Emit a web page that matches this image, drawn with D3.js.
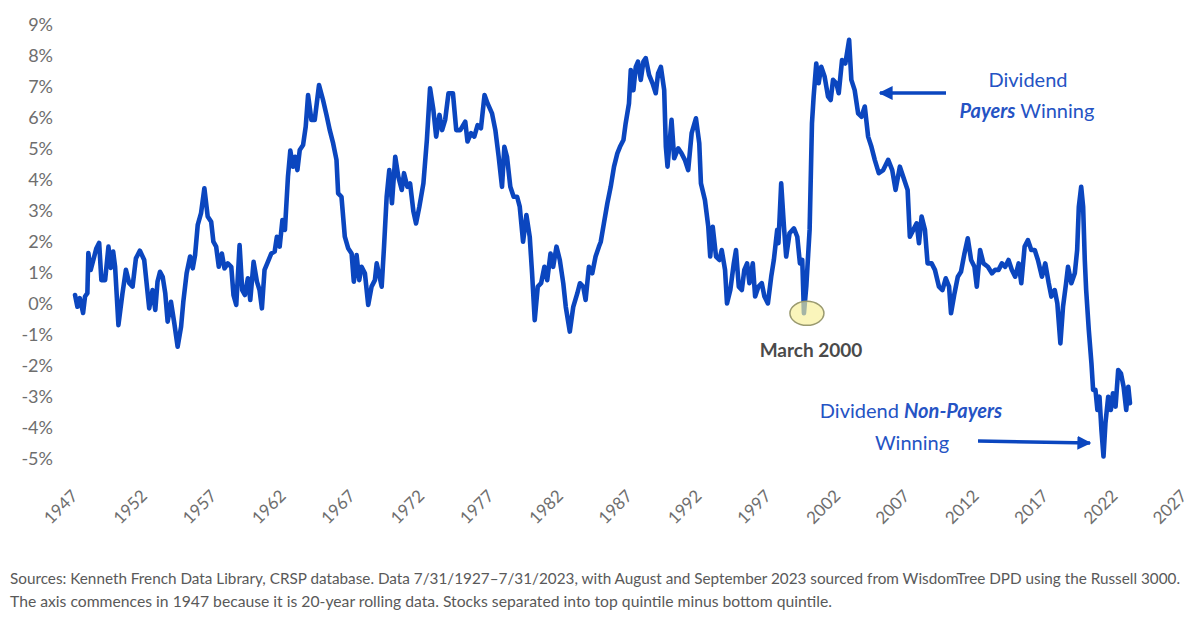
<!DOCTYPE html>
<html>
<head>
<meta charset="utf-8">
<script src="https://cdn.jsdelivr.net/npm/d3@7"></script>
<style>
  html, body { margin: 0; padding: 0; background: #fff; }
  svg { display: block; }
</style>
</head>
<body>
<svg id="chart" width="1200" height="624"></svg>
<script>
// ---- Data (decimal year, 20-yr rolling spread in %) ----
const years = [
1947.58,1947.75,1947.92,1948.16,1948.30,1948.47,1948.54,1948.71,1948.90,1949.12,1949.32,1949.48,1949.75,1949.99,
1950.16,1950.33,1950.47,1950.71,1951.00,1951.25,1951.49,1951.73,1951.97,1952.26,1952.57,1952.93,1953.17,1953.37,
1953.53,1953.71,1953.90,1954.09,1954.26,1954.50,1954.74,1954.98,1955.23,1955.39,1955.63,1955.88,1956.07,1956.24,
1956.43,1956.67,1956.91,1957.15,1957.40,1957.56,1957.76,1957.95,1958.17,1958.36,1958.60,1958.85,1959.01,1959.21,
1959.45,1959.64,1959.83,1960.05,1960.22,1960.46,1960.70,1960.89,1961.06,1961.25,1961.49,1961.74,1961.98,1962.14,
1962.34,1962.54,1962.72,1962.94,1963.11,1963.30,1963.45,1963.62,1963.79,1964.03,1964.22,1964.39,1964.63,1964.87,
1965.18,1965.47,1965.72,1965.96,1966.20,1966.44,1966.56,1966.80,1967.04,1967.28,1967.53,1967.69,1967.89,1968.08,
1968.25,1968.49,1968.73,1968.97,1969.21,1969.34,1969.70,1969.87,1970.06,1970.25,1970.44,1970.68,1970.90,1971.15,
1971.31,1971.55,1971.75,1971.99,1972.18,1972.42,1972.71,1972.96,1973.19,1973.43,1973.63,1973.87,1974.06,1974.28,
1974.52,1974.84,1975.08,1975.37,1975.73,1975.89,1976.14,1976.38,1976.62,1976.86,1977.12,1977.34,1977.66,1977.90,
1978.14,1978.38,1978.55,1978.74,1978.98,1979.22,1979.47,1979.66,1979.90,1980.14,1980.38,1980.55,1980.74,1980.96,
1981.20,1981.44,1981.64,1981.88,1982.07,1982.31,1982.55,1982.80,1982.98,1983.27,1983.52,1983.81,1984.00,1984.24,
1984.41,1984.65,1984.89,1985.13,1985.37,1985.50,1985.73,1985.98,1986.22,1986.46,1986.70,1986.89,1987.14,1987.30,
1987.54,1987.67,1987.86,1988.03,1988.19,1988.39,1988.58,1988.75,1988.99,1989.24,1989.47,1989.64,1989.84,1990.08,
1990.20,1990.32,1990.61,1990.80,1991.09,1991.33,1991.57,1991.81,1992.06,1992.37,1992.61,1992.73,1993.02,1993.26,
1993.40,1993.58,1993.82,1994.06,1994.23,1994.47,1994.61,1994.85,1995.10,1995.26,1995.46,1995.68,1995.86,1996.06,
1996.23,1996.47,1996.64,1996.88,1997.12,1997.31,1997.56,1997.80,1997.99,1998.23,1998.32,1998.52,1998.72,1998.88,
1999.12,1999.44,1999.68,1999.87,2000.04,2000.16,2000.33,2000.57,2000.74,2000.86,2001.05,2001.22,2001.41,2001.65,
2001.90,2002.09,2002.26,2002.50,2002.67,2002.91,2003.15,2003.42,2003.58,2003.82,2004.07,2004.31,2004.55,2004.79,
2005.03,2005.27,2005.56,2005.88,2006.24,2006.53,2006.77,2007.08,2007.40,2007.64,2007.80,2008.05,2008.29,2008.46,
2008.65,2008.89,2009.08,2009.37,2009.61,2009.90,2010.15,2010.39,2010.63,2010.77,2011.02,2011.26,2011.49,2011.74,
2011.98,2012.22,2012.46,2012.63,2012.87,2013.11,2013.43,2013.72,2013.95,2014.20,2014.44,2014.68,2014.92,2015.16,
2015.40,2015.65,2015.84,2016.08,2016.32,2016.56,2016.81,2017.04,2017.33,2017.57,2017.82,2018.01,2018.25,2018.44,
2018.66,2018.85,2019.07,2019.21,2019.45,2019.70,2019.87,2019.99,2020.16,2020.30,2020.42,2020.52,2020.71,2020.90,
2021.02,2021.19,2021.33,2021.48,2021.62,2021.77,2021.91,2022.11,2022.30,2022.45,2022.64,2022.83,2023.03,2023.22,
2023.41,2023.56,2023.68
];
const spread = [
0.29,-0.09,0.19,-0.29,0.24,0.35,1.64,1.10,1.42,1.80,1.97,0.77,0.77,1.85,
1.16,1.69,1.20,-0.68,0.34,1.10,0.67,0.56,1.47,1.72,1.42,-0.14,0.45,-0.19,
0.72,1.04,0.88,0.34,-0.57,0.07,-0.62,-1.38,-0.73,0.07,0.99,1.53,1.15,1.58,
2.55,2.93,3.73,2.82,2.65,2.01,1.85,1.20,1.63,1.15,1.31,1.20,0.29,-0.03,
1.90,0.45,0.29,0.83,0.13,1.36,0.72,0.45,-0.14,1.10,1.36,1.63,1.69,2.17,
1.85,2.71,2.39,4.11,4.95,4.43,4.75,4.32,4.97,5.13,5.72,6.74,5.94,5.94,
7.06,6.58,6.10,5.60,5.18,4.65,3.57,3.46,2.17,1.80,1.63,0.72,1.58,0.77,
1.20,0.99,-0.03,0.56,0.77,1.31,0.56,1.85,3.46,4.32,3.25,4.75,4.11,3.68,
4.22,3.78,3.89,2.98,2.60,3.14,3.89,5.29,6.96,6.26,5.40,6.10,5.61,5.94,
6.80,6.80,5.61,5.61,5.88,5.24,5.51,5.40,5.77,5.67,6.74,6.47,6.15,5.61,
4.75,3.78,5.07,4.75,3.78,3.46,3.46,3.14,2.01,2.87,2.17,0.99,-0.52,0.56,
0.67,1.20,0.77,1.63,1.20,1.85,1.42,0.67,-0.09,-0.89,-0.09,0.34,0.67,0.56,
0.13,1.20,0.99,1.53,1.85,2.00,2.60,3.25,3.78,4.43,4.86,5.07,5.29,5.83,
6.47,7.55,6.90,7.65,7.82,7.23,7.82,7.93,7.39,7.12,6.80,7.44,7.65,6.90,
5.07,4.43,5.94,4.70,5.02,4.86,4.65,4.32,5.51,5.99,5.18,3.89,3.35,2.49,
1.53,2.49,1.53,1.42,1.74,1.10,0.02,0.45,1.31,1.74,0.56,0.45,1.10,1.31,
0.67,1.31,0.24,0.56,0.67,0.24,0.02,0.88,1.42,2.39,1.96,3.89,2.49,1.53,
2.28,2.44,2.17,1.31,1.42,-0.30,0.56,2.39,5.83,6.69,7.76,7.12,7.65,7.34,
6.69,6.58,7.23,7.12,6.80,7.87,7.76,8.52,7.23,6.90,6.15,6.04,6.37,5.40,
5.07,4.65,4.22,4.32,4.65,4.32,3.68,4.43,4.00,3.68,2.17,2.39,2.60,1.96,
2.82,2.39,1.31,1.31,1.10,0.56,0.45,0.83,0.56,-0.30,0.34,0.88,1.04,1.63,
2.12,1.42,1.20,0.56,1.74,1.31,1.20,0.99,1.10,1.10,1.31,1.20,1.42,1.10,
0.88,1.31,0.67,1.85,2.06,1.74,1.74,1.42,0.88,1.31,0.67,0.24,0.45,0.02,
-1.27,-0.09,0.67,1.20,0.67,0.99,1.74,3.14,3.78,3.14,1.42,0.45,-0.84,-1.91,
-2.77,-2.77,-3.42,-2.99,-4.06,-4.92,-3.85,-2.99,-3.42,-2.88,-3.31,-2.13,-2.24,-2.67,
-3.42,-2.67,-3.20
];
const xTickYears = [1947,1952,1957,1962,1967,1972,1977,1982,1987,1992,1997,2002,2007,2012,2017,2022,2027];
const yTickValues = [-5,-4,-3,-2,-1,0,1,2,3,4,5,6,7,8,9];
const footnoteLines = [
  "Sources: Kenneth French Data Library, CRSP database. Data 7/31/1927–7/31/2023, with August and September 2023 sourced from WisdomTree DPD using the Russell 3000.",
  "The axis commences in 1947 because it is 20-year rolling data. Stocks separated into top quintile minus bottom quintile."
];

// ---- Drawing ----
const svg = d3.select("#chart");
const FONT = "Lato, 'Open Sans', sans-serif";
const BLUE = "#0b46bf";
const TEXTBLUE = "#2553c4";
const GRAY = "#6e6e6e";

const x = d3.scaleLinear().domain([1947, 2027]).range([67, 1176]);
const y = d3.scaleLinear().domain([-5, 9]).range([459, 25]);

// Y axis labels
const yAxis = d3.axisLeft(y).tickValues(yTickValues).tickFormat(d => d + "%").tickSize(0).tickPadding(0);
const gy = svg.append("g").attr("transform", "translate(53,0)").call(yAxis);
gy.select(".domain").remove();
gy.selectAll("text").attr("font-family", FONT).attr("font-size", 18).attr("fill", GRAY);

// X axis labels (rotated)
const xAxis = d3.axisBottom(x).tickValues(xTickYears).tickFormat(d3.format("d")).tickSize(0);
const gx = svg.append("g").call(xAxis);
gx.select(".domain").remove();
gx.selectAll(".tick").attr("transform", d => `translate(${x(d) + 12},497)`);
gx.selectAll("text")
  .attr("x", 0).attr("y", 0).attr("dy", 0)
  .attr("transform", "rotate(-45)")
  .attr("text-anchor", "end")
  .attr("font-family", FONT).attr("font-size", 17).attr("fill", GRAY);

// Line
const data = years.map((t, i) => ({ t, v: spread[i] }));
const line = d3.line().x(d => x(d.t)).y(d => y(d.v));
svg.append("path")
  .datum(data)
  .attr("d", line)
  .attr("fill", "none")
  .attr("stroke", BLUE)
  .attr("stroke-width", 4.6)
  .attr("stroke-linejoin", "round")
  .attr("stroke-linecap", "round");

// March 2000 highlight ellipse
svg.append("ellipse")
  .attr("cx", x(2000.16) + 3).attr("cy", y(-0.3))
  .attr("rx", 17).attr("ry", 12)
  .attr("fill", "#f7f096").attr("fill-opacity", 0.65)
  .attr("stroke", "#9a9a70").attr("stroke-width", 1.5);

svg.append("text")
  .attr("x", 811).attr("y", 357)
  .attr("text-anchor", "middle")
  .attr("font-family", FONT).attr("font-weight", "bold").attr("font-size", 19)
  .attr("fill", "#4a4a4a")
  .text("March 2000");

// Arrow markers
const defs = svg.append("defs");
defs.append("marker")
  .attr("id", "arrowhead")
  .attr("viewBox", "0 0 10 10")
  .attr("refX", 9).attr("refY", 5)
  .attr("markerWidth", 4).attr("markerHeight", 4)
  .attr("markerUnits", "strokeWidth")
  .attr("orient", "auto")
  .append("path").attr("d", "M0,0 L10,5 L0,10 Z").attr("fill", BLUE);

// Payers arrow
svg.append("line")
  .attr("x1", 946).attr("y1", 93).attr("x2", 880).attr("y2", 93)
  .attr("stroke", BLUE).attr("stroke-width", 3.5)
  .attr("marker-end", "url(#arrowhead)");

// Non-payers arrow
svg.append("line")
  .attr("x1", 978).attr("y1", 441).attr("x2", 1090).attr("y2", 443)
  .attr("stroke", BLUE).attr("stroke-width", 3.5)
  .attr("marker-end", "url(#arrowhead)");

// Payers annotation
svg.append("text")
  .attr("x", 1028).attr("y", 87).attr("text-anchor", "middle")
  .attr("font-family", FONT).attr("font-size", 20).attr("fill", TEXTBLUE)
  .text("Dividend");
const t2 = svg.append("text")
  .attr("x", 1027).attr("y", 118).attr("text-anchor", "middle")
  .attr("font-family", FONT).attr("font-size", 20).attr("fill", TEXTBLUE);
t2.append("tspan").attr("font-weight", "bold").attr("font-style", "italic").text("Payers");
t2.append("tspan").text(" Winning");

// Non-payers annotation
const t3 = svg.append("text")
  .attr("x", 911).attr("y", 418).attr("text-anchor", "middle")
  .attr("font-family", FONT).attr("font-size", 20).attr("fill", TEXTBLUE);
t3.append("tspan").text("Dividend ");
t3.append("tspan").attr("font-weight", "bold").attr("font-style", "italic").text("Non-Payers");
svg.append("text")
  .attr("x", 912).attr("y", 450).attr("text-anchor", "middle")
  .attr("font-family", FONT).attr("font-size", 20).attr("fill", TEXTBLUE)
  .text("Winning");

// Footnote
const fnWidths = [1170, 822];
footnoteLines.forEach((s, i) => {
  svg.append("text")
    .attr("x", 10).attr("y", 584 + i * 23)
    .attr("font-family", FONT).attr("font-size", 15).attr("fill", "#595959")
    .attr("textLength", fnWidths[i]).attr("lengthAdjust", "spacingAndGlyphs")
    .text(s);
});
</script>
</body>
</html>
